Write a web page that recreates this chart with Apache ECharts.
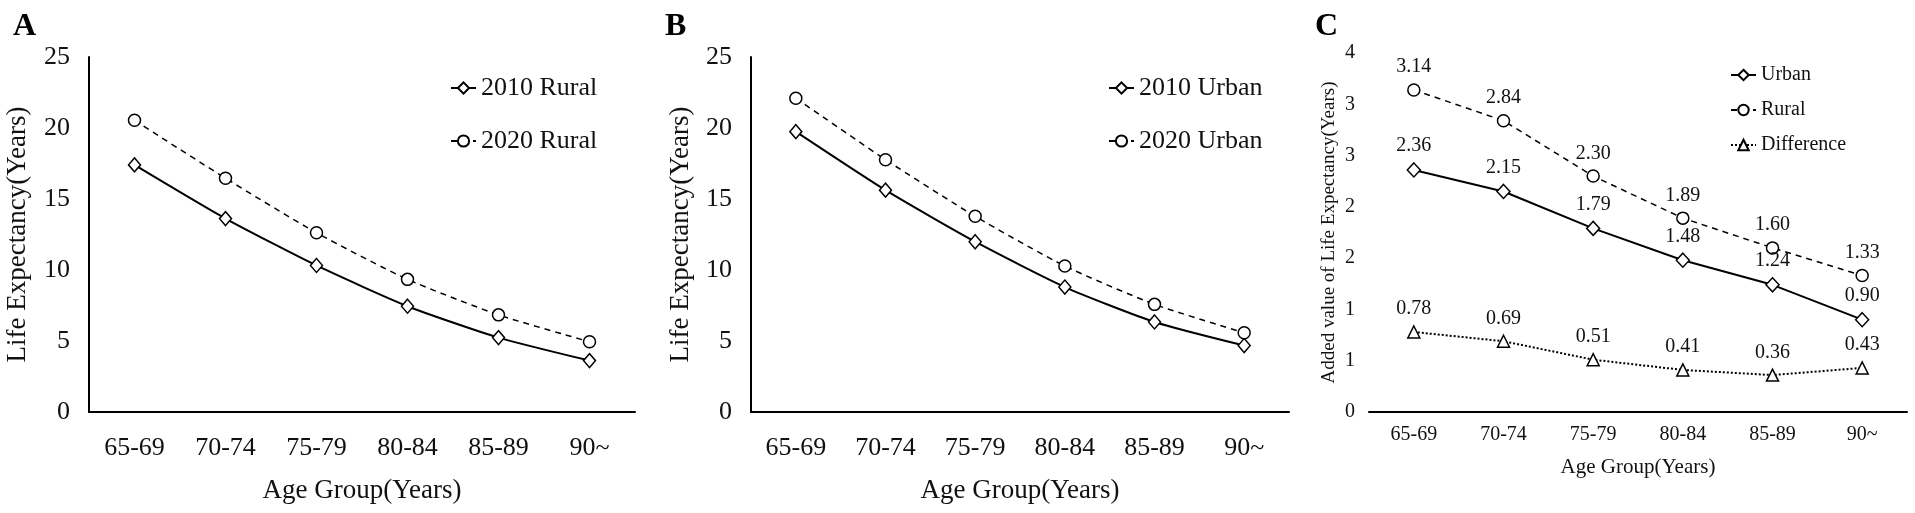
<!DOCTYPE html>
<html>
<head>
<meta charset="utf-8">
<title>Life Expectancy</title>
<script src="https://cdn.jsdelivr.net/npm/echarts@6/dist/echarts.min.js"></script>
<style>
    html, body {margin: 0; padding: 0; background: #fff;}
    #chart {width: 1915px; height: 513px;}
</style>
</head>
<body>
<div id="chart"></div>
<script>
    // 数据
    var ageGroups = ['65-69', '70-74', '75-79', '80-84', '85-89', '90~'];
    var rural2010 = [17.40, 13.62, 10.32, 7.45, 5.24, 3.62];
    var rural2020 = [20.54, 16.46, 12.62, 9.34, 6.84, 4.95];
    var urban2010 = [19.74, 15.62, 11.99, 8.80, 6.34, 4.68];
    var urban2020 = [22.10, 17.77, 13.78, 10.28, 7.58, 5.58];
    var urbanAdded = [2.36, 2.15, 1.79, 1.48, 1.24, 0.90];
    var ruralAdded = [3.14, 2.84, 2.30, 1.89, 1.60, 1.33];
    var diffAdded = [0.78, 0.69, 0.51, 0.41, 0.36, 0.43];

    var FONT = "'Liberation Serif', 'Times New Roman', serif";
    var INK = '#111';

    function xAxis(idx, fs, margin, gap) {
        return {
            type: 'category',
            gridIndex: idx,
            data: ageGroups,
            name: 'Age Group(Years)',
            nameLocation: 'middle',
            nameGap: gap,
            nameTextStyle: {fontFamily: FONT, fontSize: fs + 1, color: INK},
            axisLine: {lineStyle: {color: '#000', width: 2}},
            axisTick: {show: false},
            axisLabel: {fontFamily: FONT, fontSize: fs, color: INK, margin: margin}
        };
    }

    function lineSeries(name, data, idx, symbol, size, type, width, smooth, label) {
        return {
            name: name,
            type: 'line',
            xAxisIndex: idx,
            yAxisIndex: idx,
            data: data,
            smooth: smooth,
            symbol: symbol,
            symbolSize: size,
            showAllSymbol: true,
            lineStyle: {color: '#000', width: width, type: type},
            itemStyle: {color: '#fff', borderColor: '#000', borderWidth: 1.5},
            label: {
                show: !!label,
                position: 'top',
                distance: 6,
                fontFamily: FONT,
                fontSize: 20,
                color: INK,
                formatter: function (p) { return p.value.toFixed(2); }
            },
            animation: false
        };
    }

    var myChart = echarts.init(document.getElementById('chart'));
    var option = {
        backgroundColor: '#fff',
        title: [
            {text: 'A', left: 8, top: 6, textStyle: {fontFamily: FONT, fontSize: 32, fontWeight: 'bold', color: '#000'}},
            {text: 'B', left: 660, top: 6, textStyle: {fontFamily: FONT, fontSize: 32, fontWeight: 'bold', color: '#000'}},
            {text: 'C', left: 1310, top: 6, textStyle: {fontFamily: FONT, fontSize: 32, fontWeight: 'bold', color: '#000'}}
        ],
        legend: [
            {
                data: ['2010 Rural', '2020 Rural'],
                orient: 'vertical', left: 445, top: 70,
                itemWidth: 25, itemHeight: 14, itemGap: 27,
                textStyle: {fontFamily: FONT, fontSize: 26, color: INK}
            },
            {
                data: ['2010 Urban', '2020 Urban'],
                orient: 'vertical', left: 1103, top: 70,
                itemWidth: 25, itemHeight: 14, itemGap: 27,
                textStyle: {fontFamily: FONT, fontSize: 26, color: INK}
            },
            {
                data: ['Urban', 'Rural', 'Difference'],
                orient: 'vertical', left: 1725, top: 60,
                itemWidth: 25, itemHeight: 13, itemGap: 15,
                textStyle: {fontFamily: FONT, fontSize: 20, color: INK}
            }
        ],
        grid: [
            {left: 89, top: 57, width: 546, bottom: 101},
            {left: 751, top: 57, width: 538, bottom: 101},
            {left: 1369, top: 53, width: 538, bottom: 101}
        ],
        xAxis: [
            xAxis(0, 26, 23, 65),
            xAxis(1, 26, 23, 65),
            xAxis(2, 20, 13, 45)
        ],
        yAxis: [
            {
                type: 'value', gridIndex: 0, min: 0, max: 25, interval: 5,
                name: 'Life Expectancy(Years)', nameLocation: 'middle', nameGap: 58,
                nameTextStyle: {fontFamily: FONT, fontSize: 27, color: INK},
                axisLine: {show: true, lineStyle: {color: '#000', width: 2}},
                axisTick: {show: false},
                splitLine: {show: false},
                axisLabel: {fontFamily: FONT, fontSize: 26, color: INK, margin: 19}
            },
            {
                type: 'value', gridIndex: 1, min: 0, max: 25, interval: 5,
                name: 'Life Expectancy(Years)', nameLocation: 'middle', nameGap: 57,
                nameTextStyle: {fontFamily: FONT, fontSize: 27, color: INK},
                axisLine: {show: true, lineStyle: {color: '#000', width: 2}},
                axisTick: {show: false},
                splitLine: {show: false},
                axisLabel: {fontFamily: FONT, fontSize: 26, color: INK, margin: 19}
            },
            {
                type: 'value', gridIndex: 2, min: 0, max: 3.5, interval: 0.5,
                name: 'Added value of Life Expectancy(Years)', nameLocation: 'middle', nameGap: 30,
                nameTextStyle: {fontFamily: FONT, fontSize: 19, color: INK},
                axisLine: {show: false},
                axisTick: {show: false},
                splitLine: {show: false},
                axisLabel: {
                    fontFamily: FONT, fontSize: 20, color: INK, margin: 14,
                    formatter: function (v) { return String(Math.round(v)); } //原图刻度取整显示
                }
            }
        ],
        series: [
            lineSeries('2010 Rural', rural2010, 0, 'diamond', [12, 14], 'solid', 2, 0.2),
            lineSeries('2020 Rural', rural2020, 0, 'circle', 12, [6, 5], 1.5, 0.2),
            lineSeries('2010 Urban', urban2010, 1, 'diamond', [12, 14], 'solid', 2, 0.2),
            lineSeries('2020 Urban', urban2020, 1, 'circle', 12, [6, 5], 1.5, 0.2),
            lineSeries('Urban', urbanAdded, 2, 'diamond', [13, 14], 'solid', 2, false, true),
            lineSeries('Rural', ruralAdded, 2, 'circle', 12, [6, 5], 1.5, false, true),
            lineSeries('Difference', diffAdded, 2, 'triangle', 12, [2, 2], 2, false, true)
        ]
    };
    myChart.setOption(option);

    window.onresize = function () {
        myChart.resize();
    };
</script>
</body>
</html>
